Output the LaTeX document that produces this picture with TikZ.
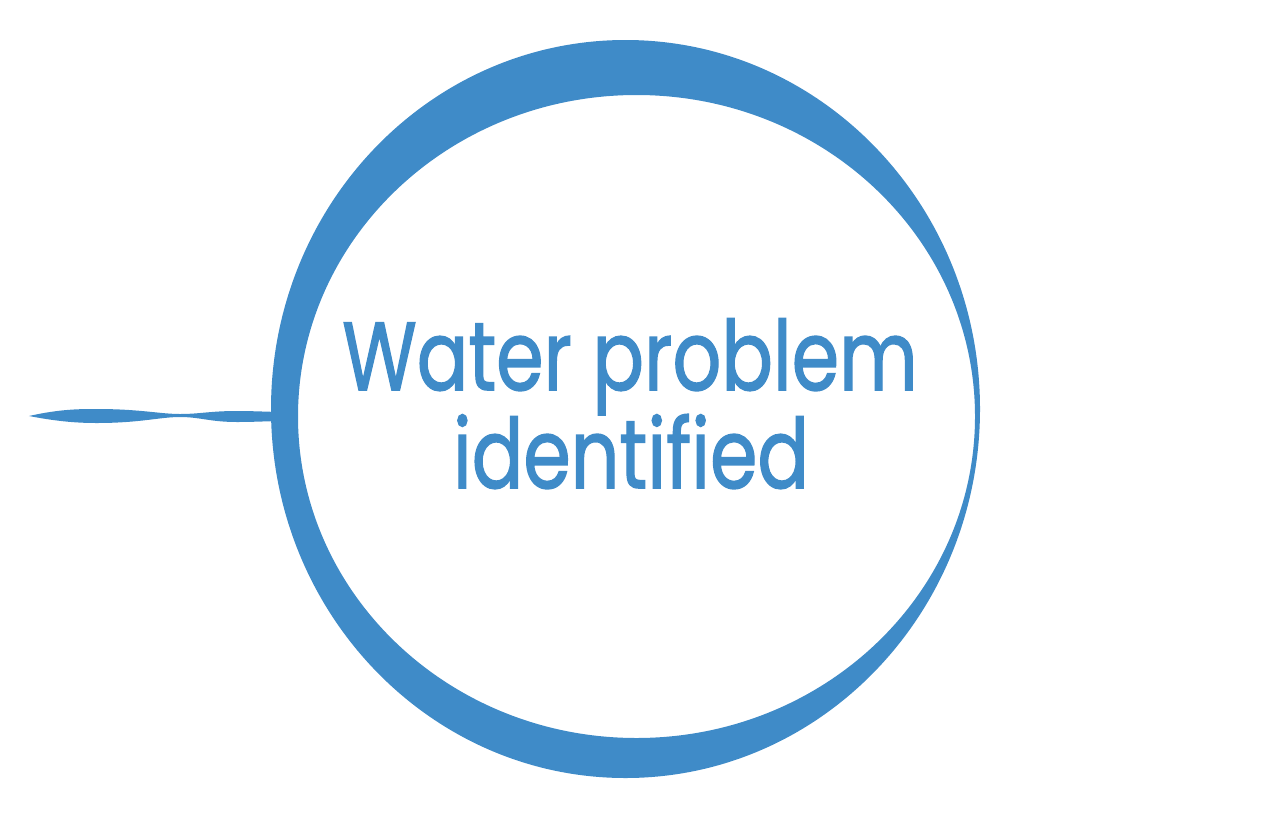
\documentclass[tikz,border=0pt]{standalone}
\usepackage{fontspec}
\setmainfont{Poppins}
\newfontfamily\labelfont{Poppins}[RawFeature={embolden=1.6}]
\definecolor{waterblue}{RGB}{63,139,200}

\begin{document}
\begin{tikzpicture}[
  txt/.style={text=waterblue,anchor=base,inner sep=0pt,xscale=0.79,transform shape,
    font=\labelfont\fontsize{27.5}{28}\selectfont}
]
\useasboundingbox (0,0) rectangle (12.88,-8.17);

% brush ring
\fill[waterblue,even odd rule] (6.255,-4.09) ellipse [x radius=3.545, y radius=3.69]
  (6.365,-4.165) ellipse [x radius=3.385, y radius=3.215];

% wavy tail
\fill[waterblue] (0.29,-4.16) .. controls (0.6,-4.09) and (0.8,-4.09) .. (0.97,-4.09)
  .. controls (1.4,-4.09) and (1.6,-4.14) .. (1.8,-4.14)
  .. controls (2.0,-4.14) and (2.1,-4.11) .. (2.37,-4.11)
  .. controls (2.55,-4.11) and (2.7,-4.12) .. (2.85,-4.12)
  -- (2.85,-4.21)
  .. controls (2.7,-4.21) and (2.55,-4.22) .. (2.37,-4.22)
  .. controls (2.1,-4.22) and (2.0,-4.17) .. (1.8,-4.17)
  .. controls (1.6,-4.17) and (1.4,-4.23) .. (0.97,-4.23)
  .. controls (0.8,-4.23) and (0.6,-4.22) .. cycle;

\node[txt] (line1) at (6.30,-3.90) {Water problem};
\node[txt] (line2) at (6.31,-4.88) {identified};

\end{tikzpicture}
\end{document}
